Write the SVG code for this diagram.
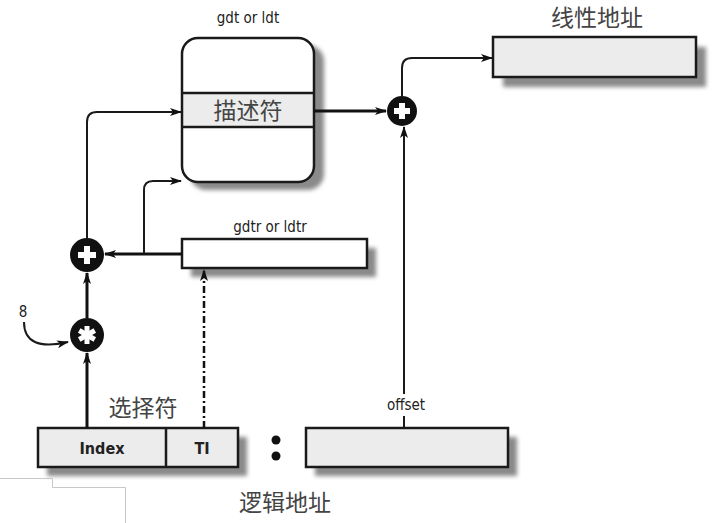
<svg xmlns="http://www.w3.org/2000/svg" width="720" height="523" viewBox="0 0 720 523">
<defs>
<filter id="blur" x="-20%" y="-20%" width="140%" height="140%"><feGaussianBlur stdDeviation="2"/></filter>
<marker id="arr" markerWidth="12" markerHeight="10" refX="11" refY="5" orient="auto" markerUnits="userSpaceOnUse"><path d="M0,1 L12,5 L0,9 L3,5 Z" fill="#111"/></marker>
</defs>
<style>
.box{stroke:#1a1a1a;stroke-width:2.5}
.grey{fill:#ececec}
.white{fill:#fff}
.shadow{fill:#8a8a8a;filter:url(#blur)}
.ln{fill:none;stroke:#1a1a1a;stroke-width:2}
.thick{fill:none;stroke:#111;stroke-width:3}
.lbl{font-family:"DejaVu Sans Condensed","DejaVu Sans",sans-serif;font-stretch:condensed;font-size:15px;fill:#222;text-anchor:middle}
.bold{font-family:"DejaVu Sans Condensed","DejaVu Sans",sans-serif;font-stretch:condensed;font-weight:bold;font-size:16px;fill:#222;text-anchor:middle}
.cjk{font-family:"Noto Sans CJK SC",sans-serif;font-size:23px;fill:#444;text-anchor:middle}
.op{fill:#111}
.sym{fill:#fff}
.art{fill:none;stroke:#c8c8c8;stroke-width:1}
</style>

<g id="table">
<rect class="shadow" x="190" y="45" width="134" height="145" rx="16"/>
<rect class="white" x="182" y="38" width="132" height="144" rx="16"/>
<rect class="grey" x="183" y="93" width="130" height="34"/>
<line class="box" x1="182" y1="93" x2="314" y2="93"/>
<line class="box" x1="182" y1="127" x2="314" y2="127"/>
<rect class="box" fill="none" x="182" y="38" width="132" height="144" rx="16"/>
<text class="cjk" x="248" y="119">描述符</text>
<text class="lbl" x="248" y="23">gdt or ldt</text>
</g>

<g id="linear">
<rect class="shadow" x="503" y="47" width="203" height="40"/>
<rect class="box grey" x="493" y="37" width="203" height="40"/>
<text class="cjk" x="597" y="26">线性地址</text>
</g>

<g id="gdtr">
<rect class="shadow" x="191" y="248" width="185" height="29"/>
<rect class="box white" x="182" y="239" width="185" height="29"/>
<text class="lbl" x="270" y="232">gdtr or ldtr</text>
</g>

<g id="selector">
<rect class="shadow" x="47" y="437" width="200" height="39"/>
<rect class="box grey" x="38" y="428" width="200" height="39"/>
<line class="box" x1="166" y1="428" x2="166" y2="467"/>
<text class="bold" x="102" y="454">Index</text>
<text class="bold" x="202" y="454">TI</text>
<text class="cjk" x="143" y="416">选择符</text>
</g>

<g id="offset">
<rect class="shadow" x="315" y="437" width="202" height="39"/>
<rect class="box grey" x="306" y="428" width="202" height="39"/>
<text class="lbl" x="406" y="410">offset</text>
</g>

<g id="colon">
<circle class="op" cx="276" cy="440" r="4.5"/>
<circle class="op" cx="276" cy="456" r="4.5"/>
<text class="cjk" x="285" y="511">逻辑地址</text>
</g>

<g id="plus-right">
<circle class="op" cx="402" cy="111" r="15"/>
<rect class="sym" x="399" y="103" width="6" height="16"/>
<rect class="sym" x="394" y="108" width="16" height="6"/>
</g>

<g id="plus-left">
<circle class="op" cx="87" cy="255" r="17"/>
<rect class="sym" x="84" y="246" width="6" height="18"/>
<rect class="sym" x="78" y="252" width="18" height="6"/>
</g>

<g id="times">
<circle class="op" cx="87" cy="335" r="17"/>
<g transform="translate(87,335)" fill="#fff">
<rect x="-2.5" y="-9" width="5" height="18"/>
<rect x="-2.5" y="-9" width="5" height="18" transform="rotate(60)"/>
<rect x="-2.5" y="-9" width="5" height="18" transform="rotate(-60)"/>
</g>
<text class="lbl" x="23" y="317" font-size="17">8</text>
</g>

<g id="connectors">
<line class="thick" x1="314" y1="111" x2="386" y2="111" marker-end="url(#arr)"/>
<path class="ln" d="M402,96 V68 Q402,58 412,58 H492" marker-end="url(#arr)"/>
<line class="ln" x1="404" y1="394" x2="404" y2="127" marker-end="url(#arr)"/>
<line class="ln" x1="404" y1="416" x2="404" y2="428"/>
<path class="ln" d="M87,238 V122 Q87,112 97,112 H181" marker-end="url(#arr)"/>
<line class="thick" x1="182" y1="254" x2="105" y2="254" marker-end="url(#arr)"/>
<path class="ln" d="M144,254 V190 Q144,181 153,181 H181" marker-end="url(#arr)"/>
<line class="thick" x1="87" y1="318" x2="87" y2="273" marker-end="url(#arr)"/>
<line class="thick" x1="87" y1="428" x2="87" y2="353" marker-end="url(#arr)"/>
<line x1="204" y1="428" x2="204" y2="270" stroke="#111" stroke-width="2.5" stroke-dasharray="7,3,2,3" marker-end="url(#arr)"/>
<path class="ln" stroke-width="1.6" d="M24,322 Q24,352 68,342" marker-end="url(#arr)"/>
</g>

<g id="crop-edge">
<path class="art" d="M0,478.5 H52.5 V487.5 H125.5 V523"/>
</g>
</svg>
